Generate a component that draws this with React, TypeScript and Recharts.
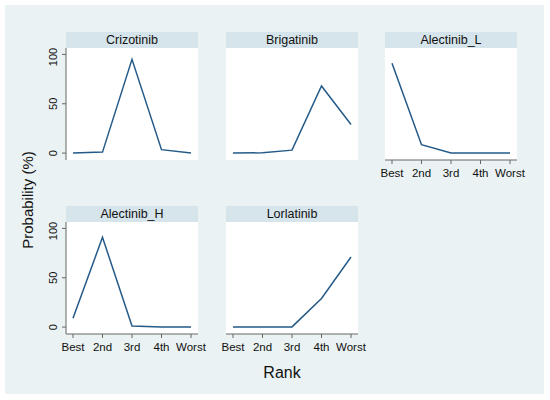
import React from 'react';
import { LineChart, Line, XAxis, YAxis, CartesianGrid } from 'recharts';

// rank categories shared by every panel
const ranks = ['Best', '2nd', '3rd', '4th', 'Worst'];
const yTicks = [0, 50, 100];

// probability (%) per rank
const crizotinib = [0, 1, 95, 3.5, 0];
const brigatinib = [0, 0.3, 3, 68, 29];
const alectinibL = [91, 8.5, 0, 0, 0];
const alectinibH = [9, 91, 1, 0.2, 0];
const lorlatinib = [0, 0, 0.2, 29, 71];

const panels = [
  { title: 'Crizotinib', values: crizotinib, col: 0, row: 0, showX: false },
  { title: 'Brigatinib', values: brigatinib, col: 1, row: 0, showX: false },
  { title: 'Alectinib_L', values: alectinibL, col: 2, row: 0, showX: true },
  { title: 'Alectinib_H', values: alectinibH, col: 0, row: 1, showX: true },
  { title: 'Lorlatinib', values: lorlatinib, col: 1, row: 1, showX: true },
];

const FONT = '"Liberation Sans", Arial, sans-serif';
const NAVY = '#245A88';
const BG = '#EAF2F3';
const HEAD = '#D6E4EB';
const AXIS = '#666666';

const colLeft = [66, 226, 385];
const rowTop = [48, 222];
const PLOT_W = 132;
const PLOT_H = 112;
const Y_W = 50;
const X_H = 32;
const R_PAD = 24; // room for the last tick label

function YTick(props: any) {
  const { x, y, payload } = props;
  return (
    <text
      x={x}
      y={y}
      transform={`rotate(-90, ${x}, ${y})`}
      textAnchor="middle"
      fontSize={11}
      fill="#111"
      fontFamily={FONT}
    >
      {payload.value}
    </text>
  );
}

function Panel({ title, values, col, row, showX }: any) {
  const data = ranks.map((r, i) => ({ rank: r, p: values[i] }));
  const showY = col === 0;
  const left = colLeft[col];
  const top = rowTop[row];
  return (
    <>
      <div
        style={{
          position: 'absolute',
          left,
          top: top - 16,
          width: PLOT_W,
          height: 16,
          background: HEAD,
          fontFamily: FONT,
          fontSize: 12.5,
          lineHeight: '16px',
          textAlign: 'center',
          color: '#111',
        }}
      >
        {title}
      </div>
      <div style={{ position: 'absolute', left: left - Y_W, top }}>
        <LineChart
          width={Y_W + PLOT_W + R_PAD}
          height={PLOT_H + X_H}
          data={data}
          margin={{ top: 0, right: R_PAD, bottom: 0, left: 0 }}
        >
          <rect x={Y_W} y={0} width={PLOT_W} height={PLOT_H} fill="#fff" />
          <CartesianGrid vertical={false} stroke={BG} strokeWidth={1.2} />
          <XAxis
            dataKey="rank"
            height={X_H}
            padding={{ left: 7, right: 7 }}
            interval={0}
            stroke={AXIS}
            axisLine={showX}
            tickLine={showX}
            tick={showX ? { fill: '#111', fontSize: 11.5, fontFamily: FONT } : false}
            tickSize={4}
            tickMargin={5}
          />
          <YAxis
            width={Y_W}
            domain={[-7, 106.5]}
            ticks={yTicks}
            type="number"
            stroke={AXIS}
            axisLine={showY}
            tickLine={showY}
            tick={showY ? YTick : false}
            tickSize={4}
            tickMargin={5}
          />
          <Line
            type="linear"
            dataKey="p"
            stroke={NAVY}
            strokeWidth={1.5}
            dot={false}
            isAnimationActive={false}
          />
        </LineChart>
      </div>
    </>
  );
}

export default function App() {
  return (
    <div
      style={{
        position: 'absolute',
        left: 0,
        top: 0,
        width: 550,
        height: 400,
        background: '#fff',
        fontFamily: FONT,
      }}
    >
      <div
        style={{ position: 'absolute', left: 5, top: 5, width: 539, height: 389, background: BG }}
      />
      {panels.map((p) => (
        <Panel key={p.title} {...p} />
      ))}
      <div
        style={{
          position: 'absolute',
          left: 27,
          top: 200,
          transform: 'translate(-50%, -50%) rotate(-90deg)',
          fontSize: 15,
          whiteSpace: 'nowrap',
          color: '#111',
        }}
      >
        Probability (%)
      </div>
      <div
        style={{
          position: 'absolute',
          left: 282,
          top: 373,
          transform: 'translate(-50%, -50%)',
          fontSize: 16,
          color: '#111',
        }}
      >
        Rank
      </div>
    </div>
  );
}
